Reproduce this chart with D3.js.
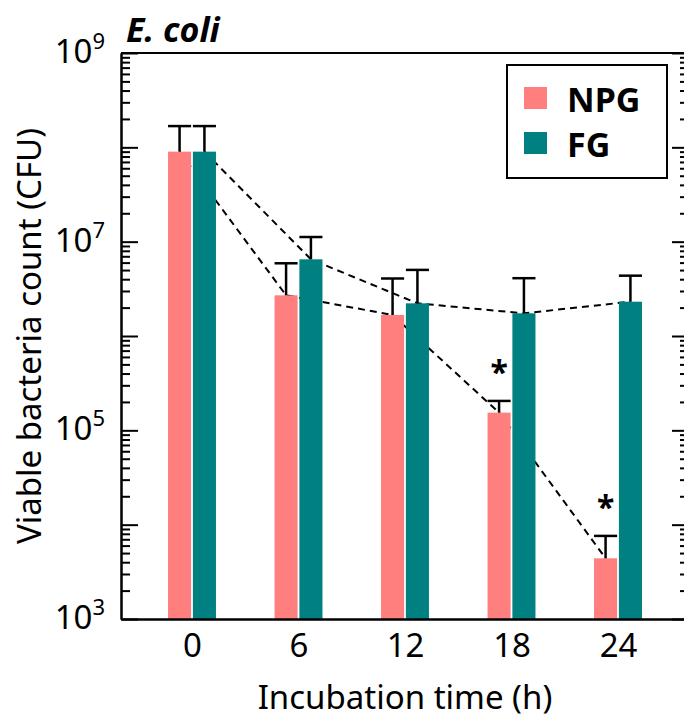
<!DOCTYPE html>
<html>
<head>
<meta charset="utf-8">
<script src="https://cdn.jsdelivr.net/npm/d3@7"></script>
<style>
  body { margin: 0; background: #fff; }
  svg text { font-family: "Noto Sans", "Open Sans", sans-serif; fill: #000; }
</style>
</head>
<body>
<div id="chart"></div>
<script>
// data (CFU, log scale)
const times = [0, 6, 12, 18, 24];
const npgMean = [9.0e7, 2.7e6, 1.67e6, 1.54e5, 4.4e3];
const npgSd = [7.8e7, 3.2e6, 2.4e6, 5.1e4, 3.2e3];
const fgMean = [9.0e7, 6.5e6, 2.22e6, 1.74e6, 2.31e6];
const fgSd = [7.8e7, 4.7e6, 2.8e6, 2.36e6, 2.05e6];
const sigTimes = [18, 24];          // NPG points marked with *
const yLabelExps = [3, 5, 7, 9];
const seriesNames = ["NPG", "FG"];
const seriesColors = ["#ff7f7f", "#008080"];

const W = 684, H = 721;
const margin = {top: 53, right: 684 - 689, bottom: 721 - 619, left: 121};

const svg = d3.select("#chart").append("svg")
    .attr("width", W)
    .attr("height", H);

// scales
const x = d3.scaleLinear().domain([-4, 28]).range([margin.left, W - margin.right]);
const y = d3.scaleLog().domain([1e3, 1e9]).range([H - margin.bottom, margin.top]);

const barW = 1.3;   // in hours
const barGap = 0.1;

// series table
const series = [
    {name: seriesNames[0], color: seriesColors[0], mean: npgMean, sd: npgSd, off: -(barW + barGap / 2)},
    {name: seriesNames[1], color: seriesColors[1], mean: fgMean, sd: fgSd, off: barGap / 2}
];
series.forEach(s => {
    s.points = times.map((t, i) => ({t: t, v: s.mean[i], sd: s.sd[i], x0: t + s.off}));
});

// dashed trend lines (behind the bars)
const line = d3.line()
    .x(d => x(d.x0 + barW / 2))
    .y(d => y(d.v));
svg.append("g").selectAll("path")
    .data(series)
    .join("path")
    .attr("d", d => line(d.points))
    .attr("fill", "none")
    .attr("stroke", "#000")
    .attr("stroke-width", 2)
    .attr("stroke-dasharray", "7,5");

// bars
series.forEach(s => {
    svg.append("g").selectAll("rect")
        .data(s.points)
        .join("rect")
        .attr("x", d => x(d.x0))
        .attr("width", d => x(d.x0 + barW) - x(d.x0))
        .attr("y", d => y(d.v))
        .attr("height", d => y(1e3) - y(d.v))
        .attr("fill", s.color);
});

// error bars (upper only)
series.forEach(s => {
    let g = svg.append("g").attr("stroke", "#000").attr("stroke-width", 2.5);
    g.selectAll(".stem")
        .data(s.points)
        .join("line")
        .attr("class", "stem")
        .attr("x1", d => x(d.x0 + barW / 2))
        .attr("x2", d => x(d.x0 + barW / 2))
        .attr("y1", d => y(d.v))
        .attr("y2", d => y(d.v + d.sd));
    g.selectAll(".cap")
        .data(s.points)
        .join("line")
        .attr("class", "cap")
        .attr("x1", d => x(d.x0))
        .attr("x2", d => x(d.x0 + barW))
        .attr("y1", d => y(d.v + d.sd))
        .attr("y2", d => y(d.v + d.sd));
});

// significance stars
svg.append("g").selectAll("text")
    .data(series[0].points.filter(d => sigTimes.includes(d.t)))
    .join("text")
    .attr("x", d => x(d.x0 + barW / 2))
    .attr("y", d => y(d.v + d.sd) - 17)
    .attr("text-anchor", "middle")
    .style("font-size", "32px")
    .style("font-weight", "bold")
    .text("*");

// y axis ticks: majors every decade, minors 2..9
const majors = d3.range(3, 10).map(e => Math.pow(10, e));
const minors = [];
d3.range(3, 9).forEach(e => {
    for (let k = 2; k <= 9; k++) minors.push(k * Math.pow(10, e));
});

function yTicks(g, axisFn, len, vals) {
    g.call(axisFn(y).tickValues(vals).tickSize(len).tickSizeOuter(0).tickFormat(""));
    g.selectAll("line").attr("stroke-width", 2);
    g.select(".domain").attr("stroke-width", 2);
}
svg.append("g").attr("transform", `translate(${margin.left},0)`)
    .call(yTicks, d3.axisRight, 17, majors);
svg.append("g").attr("transform", `translate(${margin.left},0)`)
    .call(yTicks, d3.axisRight, 9, minors);
svg.append("g").attr("transform", `translate(${W - margin.right},0)`)
    .call(yTicks, d3.axisLeft, 17, majors);
svg.append("g").attr("transform", `translate(${W - margin.right},0)`)
    .call(yTicks, d3.axisLeft, 9, minors);

// y tick labels 10^n
const yLab = svg.append("g").selectAll("text")
    .data(yLabelExps)
    .join("text")
    .attr("x", margin.left - 16)
    .attr("y", d => y(Math.pow(10, d)) + 10)
    .attr("text-anchor", "end")
    .style("font-size", "33px");
yLab.append("tspan").text("10");
yLab.append("tspan")
    .attr("dy", -14)
    .style("font-size", "22px")
    .text(d => d);

// top border
svg.append("line")
    .attr("x1", margin.left).attr("x2", W - margin.right)
    .attr("y1", margin.top).attr("y2", margin.top)
    .attr("stroke", "#000").attr("stroke-width", 2);

// x axis
const xAxis = svg.append("g")
    .attr("transform", `translate(0,${H - margin.bottom})`)
    .call(d3.axisBottom(x).tickValues(times).tickSize(0).tickSizeOuter(0).tickPadding(15));
xAxis.select(".domain").attr("stroke-width", 2.5);
xAxis.selectAll("text")
    .style("font-family", "'Noto Sans', sans-serif")
    .style("font-size", "33px")
    .attr("fill", "#000");

// axis titles
svg.append("text")
    .attr("x", (margin.left + W - margin.right) / 2)
    .attr("y", 709)
    .attr("text-anchor", "middle")
    .style("font-size", "33px")
    .text("Incubation time (h)");

svg.append("text")
    .attr("transform", `translate(41,${(margin.top + H - margin.bottom) / 2}) rotate(-90)`)
    .attr("text-anchor", "middle")
    .style("font-size", "33px")
    .text("Viable bacteria count (CFU)");

// panel title
svg.append("text")
    .attr("x", 126)
    .attr("y", 42)
    .style("font-size", "34px")
    .style("font-weight", "bold")
    .style("font-style", "italic")
    .text("E. coli");

// legend
const legend = svg.append("g").attr("transform", "translate(507,65)");
legend.append("rect")
    .attr("width", 160).attr("height", 113)
    .attr("fill", "#fff").attr("stroke", "#000").attr("stroke-width", 2);
const li = legend.selectAll(".item")
    .data(series)
    .join("g")
    .attr("class", "item")
    .attr("transform", (d, i) => `translate(17,${22 + i * 45})`);
li.append("rect")
    .attr("width", 23).attr("height", 22)
    .attr("fill", d => d.color);
li.append("text")
    .attr("x", 43).attr("y", 25)
    .style("font-size", "34px")
    .style("font-weight", "bold")
    .text(d => d.name);
</script>
</body>
</html>
